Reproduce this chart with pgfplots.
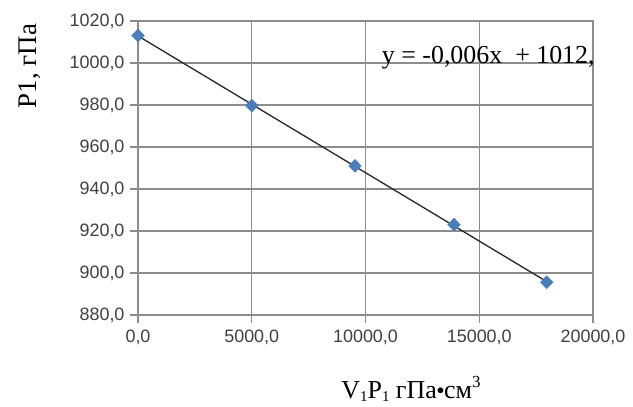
\documentclass[border=0pt]{standalone}
\usepackage{pgfplots}
\pgfplotsset{compat=1.18}
\usepackage{fontspec}
\setmainfont{Liberation Serif}
\newfontfamily\ticksfont{Liberation Sans}
\definecolor{gridc}{HTML}{8C8C8C}
\definecolor{markc}{HTML}{4A7EBB}
\definecolor{tickc}{HTML}{404040}
\newcommand{\sub}[1]{\raisebox{-0.25ex}{\fontsize{15}{16}\selectfont #1}}
\newcommand{\sups}[1]{\raisebox{0.9ex}{\fontsize{17}{18}\selectfont #1}}
\begin{document}
\begin{tikzpicture}
\useasboundingbox (0,0) rectangle (633bp,407bp);
\begin{axis}[
  at={(138bp,92bp)}, anchor=south west,
  width=455bp, height=294bp, scale only axis,
  xmin=0, xmax=20000, ymin=880, ymax=1020,
  xtick={0,5000,10000,15000,20000},
  ytick={880,900,...,1020},
  scaled ticks=false,
  /pgf/number format/.cd, fixed, fixed zerofill, precision=1, use comma, 1000 sep={}, assume math mode=true,
  /pgfplots/.cd,
  grid=major,
  major grid style={gridc, line width=1.1bp},
  axis line style={gridc, line width=1.1bp},
  tick style={gridc, line width=1.1bp},
  tick align=outside,
  major tick length=8bp,
  xtick pos=bottom, ytick pos=left,
  ticklabel style={font=\ticksfont\fontsize{18}{20}\selectfont, text=tickc},
  xticklabel style={yshift=-3bp},
  yticklabel style={xshift=-2bp},
  xlabel={V\sub{1}P\sub{1} гПа\raisebox{0.35ex}{\scalebox{0.6}{$\bullet$}}см\sups{3}},
  ylabel={P1, гПа},
  xlabel style={at={(axis description cs:0.6,-0.252)}, anchor=center, font=\fontsize{26}{30}\selectfont},
  ylabel style={at={(axis description cs:-0.237,0.847)}, anchor=center, rotate=0, font=\fontsize{27}{30}\selectfont},
  clip=false,
]
\addplot[color=black!85, line width=1.3bp, forget plot] coordinates {(0,1012.9) (17965,895.9)};
\addplot[only marks, mark=diamond*, mark size=6.5bp, color=markc, mark options={fill=markc, draw=markc, xscale=1.3}] coordinates {
(0,1013.1)
(5000,979.7)
(9538,951.0)
(13890,923.0)
(17965,895.6)
};
\node[anchor=east, font=\fontsize{26}{30}\selectfont, inner sep=0pt] at (axis description cs:1.004,0.874) {y = -0,006x \ + 1012,};
\end{axis}
\end{tikzpicture}
\end{document}
